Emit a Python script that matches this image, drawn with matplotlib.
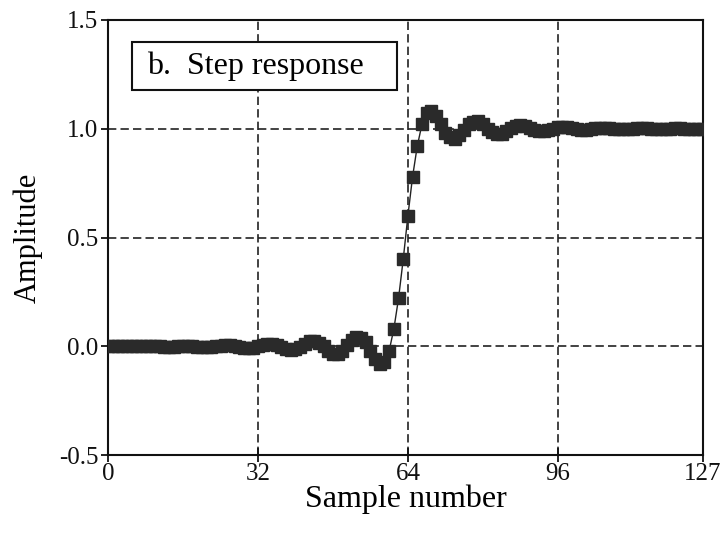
import matplotlib.pyplot as plt
import matplotlib.patches as patches
import numpy as np

# step response, samples 0..127
low = [0.000, 0.000, 0.000, 0.000, 0.000, 0.000, 0.000, 0.000, 0.000, 0.000,
       0.001, 0.000, -0.001, -0.001, -0.001, 0.001, 0.002, 0.002, 0.001, -0.001,
       -0.003, -0.003, -0.002, 0.000, 0.003, 0.005, 0.005, 0.001, -0.004, -0.008,
       -0.009, -0.006, 0.000, 0.008, 0.012, 0.012, 0.006, -0.003, -0.013, -0.016,
       -0.012, -0.003, 0.010, 0.023, 0.025, 0.015, 0.000, -0.020, -0.035, -0.033,
       -0.020, 0.005, 0.030, 0.045, 0.040, 0.020, -0.020, -0.060, -0.080, -0.070,
       -0.020, 0.080, 0.220, 0.400]
high = [0.600, 0.780, 0.920, 1.020, 1.070, 1.080, 1.060, 1.020, 0.980, 0.960,
        0.955, 0.970, 0.995, 1.020, 1.033, 1.035, 1.020, 1.000, 0.985, 0.975,
        0.977, 0.990, 1.003, 1.012, 1.016, 1.013, 1.003, 0.994, 0.988, 0.988,
        0.992, 1.000, 1.006, 1.009, 1.008, 1.004, 0.999, 0.995, 0.995, 0.997,
        1.001, 1.004, 1.005, 1.003, 1.000, 0.998, 0.997, 0.998, 1.000, 1.002,
        1.002, 1.001, 1.000, 0.999, 0.999, 0.999, 1.000, 1.001, 1.001, 1.000,
        1.000, 1.000, 1.000, 1.000]
step = low + high
n = np.arange(len(step))

xticks = [0, 32, 64, 96, 127]
yticks = [-0.5, 0.0, 0.5, 1.0, 1.5]
ylabels = ['-0.5', '0.0', '0.5', '1.0', '1.5']

plt.rcParams['font.family'] = 'Liberation Serif'

fig = plt.figure(figsize=(7.21, 5.38), dpi=100)
ax = fig.add_axes([0.150, 0.154, 0.825, 0.809])

ax.plot(n, step, color='#222222', lw=1.0, marker='s', markersize=8,
        markerfacecolor='#2a2a2a', markeredgecolor='#2a2a2a', zorder=3)

ax.set_xlim(0, 127)
ax.set_ylim(-0.5, 1.5)
ax.set_xticks(xticks)
ax.set_yticks(yticks)
ax.set_yticklabels(ylabels)
ax.tick_params(labelsize=18, width=1.3, colors='#111111')
ax.tick_params(axis='x', direction='inout', length=10, pad=1)
ax.tick_params(axis='y', direction='out', length=5, pad=2)
for g in [32, 64, 96]:
    ax.axvline(g, color='#222222', ls=(0, (5, 2.5)), lw=1.2, zorder=0)
for g in [0.0, 0.5, 1.0]:
    ax.axhline(g, color='#222222', ls=(0, (5, 2.5)), lw=1.2, zorder=0)
for s in ax.spines.values():
    s.set_linewidth(1.5)
    s.set_color('#111111')

ax.set_xlabel('Sample number', fontsize=23)
ax.set_ylabel('Amplitude', fontsize=22)
ax.xaxis.set_label_coords(0.5, -0.068)
ax.yaxis.set_label_coords(-0.11, 0.5)

# label box
ax.add_patch(patches.Rectangle((0.040, 0.839), 0.446, 0.110, transform=ax.transAxes,
                               fc='white', ec='#111111', lw=1.5, zorder=4))
ax.text(0.065, 0.894, 'b.  Step response', transform=ax.transAxes, fontsize=23,
        va='center', ha='left', zorder=5)

fig.savefig('out.png', dpi=100)
